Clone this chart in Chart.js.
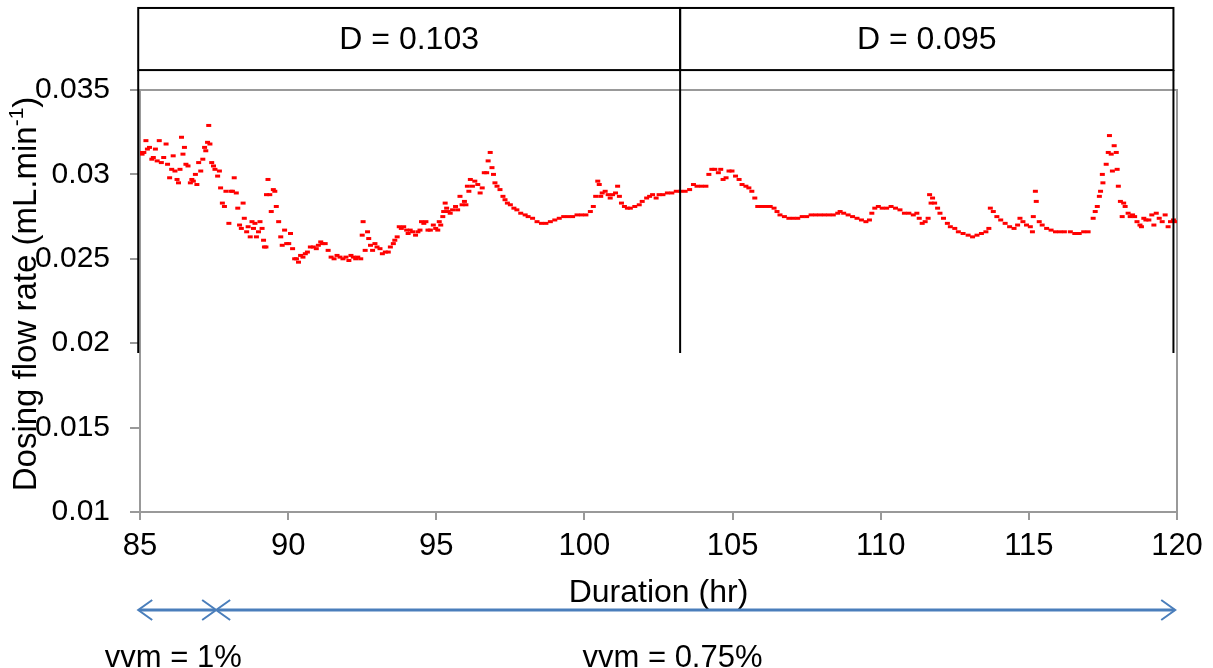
<!DOCTYPE html>
<html>
<head>
<meta charset="utf-8">
<script src="https://cdn.jsdelivr.net/npm/chart.js@4.4.1/dist/chart.umd.min.js"></script>
<style>
  body { margin: 0; background: #fff; }
  #wrap { width: 1213px; height: 668px; }
</style>
</head>
<body>
<div id="wrap"><canvas id="doseChart" width="1213" height="668"></canvas></div>
<script>
// Dosing flow rate readings (hr, mL/min)
const durations = [
  85.00, 85.07, 85.13, 85.20, 85.25, 85.32, 85.40, 85.45, 85.52, 85.58,
  85.65, 85.72, 85.80, 85.88, 85.93, 86.00, 86.07, 86.12, 86.18, 86.25,
  86.30, 86.35, 86.40, 86.45, 86.50, 86.55, 86.62, 86.70, 86.75, 86.80,
  86.87, 86.92, 86.98, 87.05, 87.12, 87.18, 87.22, 87.28, 87.32, 87.36,
  87.42, 87.48, 87.53, 87.62, 87.68, 87.72, 87.78, 87.85, 87.90, 88.00,
  88.07, 88.12, 88.18, 88.25, 88.30, 88.36, 88.42, 88.48, 88.52, 88.60,
  88.65, 88.72, 88.78, 88.83, 88.88, 88.93, 89.00, 89.05, 89.12, 89.17,
  89.20, 89.25, 89.27, 89.32, 89.38, 89.43, 89.50, 89.55, 89.60, 89.68,
  89.75, 89.80, 89.88, 89.95, 90.02, 90.08, 90.15, 90.22, 90.28, 90.35,
  90.42, 90.50, 90.58, 90.65, 90.75, 90.85, 90.95, 91.02, 91.10, 91.15,
  91.25, 91.35, 91.45, 91.55, 91.65, 91.75, 91.85, 91.95, 92.05, 92.12,
  92.20, 92.28, 92.35, 92.45, 92.50, 92.53, 92.60, 92.68, 92.72, 92.78,
  92.85, 92.93, 93.00, 93.10, 93.18, 93.28, 93.38, 93.45, 93.55, 93.60,
  93.68, 93.75, 93.82, 93.90, 94.00, 94.05, 94.12, 94.20, 94.30, 94.38,
  94.45, 94.50, 94.58, 94.65, 94.72, 94.80, 94.90, 94.98, 95.05, 95.10,
  95.15, 95.22, 95.25, 95.30, 95.35, 95.40, 95.47, 95.55, 95.65, 95.72,
  95.80, 95.87, 95.95, 96.00, 96.05, 96.10, 96.15, 96.22, 96.30, 96.40,
  96.48, 96.55, 96.62, 96.70, 96.75, 96.82, 96.88, 96.93, 96.98, 97.05,
  97.15, 97.25, 97.32, 97.40, 97.50, 97.62, 97.72, 97.85, 98.00, 98.10,
  98.25, 98.40, 98.55, 98.70, 98.85, 99.00, 99.15, 99.30, 99.45, 99.60,
  99.75, 99.90, 100.05, 100.20, 100.30, 100.38, 100.45, 100.50, 100.55, 100.60,
  100.70, 100.80, 100.87, 100.95, 101.05, 101.12, 101.18, 101.25, 101.35, 101.45,
  101.55, 101.70, 101.85, 101.95, 102.10, 102.20, 102.30, 102.42, 102.52, 102.65,
  102.80, 102.95, 103.10, 103.25, 103.40, 103.55, 103.68, 103.80, 103.95, 104.10,
  104.20, 104.30, 104.40, 104.52, 104.60, 104.68, 104.78, 104.88, 104.98, 105.10,
  105.22, 105.32, 105.45, 105.55, 105.65, 105.75, 105.85, 105.98, 106.12, 106.27,
  106.40, 106.50, 106.60, 106.75, 106.90, 107.05, 107.20, 107.35, 107.50, 107.65,
  107.80, 107.95, 108.10, 108.25, 108.40, 108.55, 108.63, 108.75, 108.90, 109.05,
  109.20, 109.35, 109.50, 109.62, 109.70, 109.80, 109.92, 110.05, 110.20, 110.35,
  110.50, 110.65, 110.80, 110.95, 111.10, 111.22, 111.30, 111.40, 111.50, 111.60,
  111.65, 111.70, 111.75, 111.82, 111.92, 112.00, 112.12, 112.25, 112.35, 112.50,
  112.62, 112.78, 112.95, 113.10, 113.25, 113.40, 113.55, 113.65, 113.70, 113.80,
  113.92, 114.05, 114.20, 114.35, 114.50, 114.62, 114.70, 114.80, 114.92, 115.05,
  115.12, 115.15, 115.22, 115.25, 115.35, 115.45, 115.60, 115.75, 115.90, 116.05,
  116.20, 116.40, 116.55, 116.70, 116.85, 117.00, 117.17, 117.24, 117.31, 117.38,
  117.42, 117.50, 117.48, 117.61, 117.68, 117.72, 117.78, 117.82, 117.88, 117.95,
  117.98, 118.02, 118.09, 118.15, 118.20, 118.25, 118.35, 118.42, 118.50, 118.57,
  118.65, 118.75, 118.80, 118.88, 118.95, 119.05, 119.15, 119.22, 119.30, 119.40,
  119.50, 119.60, 119.70, 119.78, 119.88, 119.95
];
const flowRates = [
  0.0313, 0.0312, 0.0313, 0.0320, 0.0315, 0.0316, 0.0309, 0.0310, 0.0315, 0.0308,
  0.0320, 0.0307, 0.0310, 0.0318, 0.0306, 0.0298, 0.0303, 0.0311, 0.0302, 0.0297,
  0.0295, 0.0303, 0.0322, 0.0312, 0.0316, 0.0306, 0.0305, 0.0295, 0.0297, 0.0296,
  0.0300, 0.0294, 0.0307, 0.0302, 0.0309, 0.0316, 0.0314, 0.0319, 0.0329, 0.0318,
  0.0307, 0.0305, 0.0303, 0.0299, 0.0302, 0.0292, 0.0283, 0.0281, 0.0290, 0.0271,
  0.0290, 0.0290, 0.0298, 0.0289, 0.0280, 0.0270, 0.0268, 0.0283, 0.0274, 0.0266,
  0.0269, 0.0263, 0.0272, 0.0268, 0.0271, 0.0263, 0.0266, 0.0272, 0.0268, 0.0261,
  0.0257, 0.0257, 0.0288, 0.0297, 0.0288, 0.0278, 0.0291, 0.0290, 0.0281, 0.0272,
  0.0263, 0.0258, 0.0267, 0.0259, 0.0259, 0.0265, 0.0256, 0.0250, 0.0250, 0.0248,
  0.0252, 0.0251, 0.0253, 0.0254, 0.0257, 0.0257, 0.0256, 0.0258, 0.0260, 0.0259,
  0.0259, 0.0255, 0.0251, 0.0250, 0.0252, 0.0251, 0.0250, 0.0251, 0.0249, 0.0252,
  0.0251, 0.0250, 0.0251, 0.0250, 0.0264, 0.0272, 0.0255, 0.0266, 0.0262, 0.0258,
  0.0255, 0.0259, 0.0257, 0.0256, 0.0253, 0.0254, 0.0254, 0.0257, 0.0259, 0.0261,
  0.0263, 0.0269, 0.0268, 0.0269, 0.0267, 0.0265, 0.0267, 0.0266, 0.0264, 0.0266,
  0.0267, 0.0272, 0.0271, 0.0272, 0.0267, 0.0267, 0.0270, 0.0268, 0.0267, 0.0272,
  0.0270, 0.0275, 0.0278, 0.0283, 0.0280, 0.0278, 0.0277, 0.0279, 0.0281, 0.0279,
  0.0287, 0.0282, 0.0284, 0.0282, 0.0293, 0.0290, 0.0297, 0.0293, 0.0296, 0.0294,
  0.0289, 0.0292, 0.0301, 0.0301, 0.0308, 0.0313, 0.0304, 0.0300, 0.0295, 0.0293,
  0.0291, 0.0287, 0.0285, 0.0283, 0.0282, 0.0280, 0.0279, 0.0277, 0.0276, 0.0275,
  0.0274, 0.0272, 0.0271, 0.0271, 0.0272, 0.0273, 0.0274, 0.0275, 0.0275, 0.0275,
  0.0276, 0.0276, 0.0276, 0.0278, 0.0281, 0.0287, 0.0296, 0.0294, 0.0287, 0.0289,
  0.0290, 0.0288, 0.0286, 0.0288, 0.0289, 0.0293, 0.0287, 0.0283, 0.0281, 0.0280,
  0.0280, 0.0281, 0.0282, 0.0284, 0.0286, 0.0287, 0.0288, 0.0286, 0.0288, 0.0288,
  0.0289, 0.0289, 0.0290, 0.0290, 0.0290, 0.0291, 0.0294, 0.0293, 0.0293, 0.0293,
  0.0300, 0.0303, 0.0303, 0.0301, 0.0303, 0.0297, 0.0298, 0.0302, 0.0302, 0.0299,
  0.0297, 0.0294, 0.0293, 0.0292, 0.0290, 0.0286, 0.0281, 0.0281, 0.0281, 0.0281,
  0.0280, 0.0278, 0.0276, 0.0275, 0.0274, 0.0274, 0.0274, 0.0275, 0.0275, 0.0276,
  0.0276, 0.0276, 0.0276, 0.0276, 0.0276, 0.0277, 0.0278, 0.0277, 0.0276, 0.0275,
  0.0274, 0.0273, 0.0272, 0.0273, 0.0277, 0.0280, 0.0281, 0.0280, 0.0280, 0.0281,
  0.0280, 0.0279, 0.0277, 0.0277, 0.0276, 0.0277, 0.0274, 0.0271, 0.0272, 0.0274,
  0.0288, 0.0283, 0.0286, 0.0283, 0.0280, 0.0277, 0.0274, 0.0271, 0.0269, 0.0268,
  0.0266, 0.0265, 0.0264, 0.0263, 0.0264, 0.0265, 0.0266, 0.0268, 0.0280, 0.0278,
  0.0275, 0.0273, 0.0271, 0.0269, 0.0268, 0.0270, 0.0274, 0.0272, 0.0270, 0.0269,
  0.0266, 0.0275, 0.0290, 0.0284, 0.0272, 0.0270, 0.0268, 0.0267, 0.0266, 0.0266,
  0.0266, 0.0266, 0.0265, 0.0265, 0.0266, 0.0266, 0.0274, 0.0278, 0.0281, 0.0287,
  0.0290, 0.0295, 0.0300, 0.0306, 0.0313, 0.0323, 0.0312, 0.0302, 0.0317, 0.0313,
  0.0303, 0.0293, 0.0284, 0.0275, 0.0283, 0.0281, 0.0277, 0.0275, 0.0276, 0.0275,
  0.0272, 0.0270, 0.0269, 0.0274, 0.0273, 0.0273, 0.0276, 0.0270, 0.0277, 0.0274,
  0.0272, 0.0276, 0.0269, 0.0272, 0.0273, 0.0272
];

const xTickLabels = ['85', '90', '95', '100', '105', '110', '115', '120'];
const yTickLabels = ['0.01', '0.015', '0.02', '0.025', '0.03', '0.035'];

// Dilution rate phases (hr edges) shown as boxes above the plot
const phaseEdges = [84.94, 103.23, 119.88];
const phaseLabels = ['D = 0.103', 'D = 0.095'];
// Aeration phases (hr edges) shown as arrows under the axis
const vvmEdges = [84.94, 87.57, 119.94];
const vvmLabels = ['vvm = 1%', 'vvm = 0.75%'];

const FONT = '"Liberation Sans", Arial, sans-serif';
const points = durations.map((d, i) => ({ x: d, y: flowRates[i] }));

// plot frame, header boxes, titles and aeration arrows
const decorations = {
    id: 'decorations',
    beforeDatasetsDraw(chart) {
        const { ctx, chartArea: a } = chart;
        ctx.save();
        ctx.strokeStyle = '#999';
        ctx.lineWidth = 2;
        ctx.strokeRect(a.left, a.top, a.right - a.left, a.bottom - a.top);
        ctx.restore();
    },
    afterDatasetsDraw(chart) {
        const { ctx, chartArea: a, scales: { x, y } } = chart;
        ctx.save();

        // header boxes with D values
        const boxTop = y.getPixelForValue(0.03986);
        const boxBottom = y.getPixelForValue(0.03618);
        const lineEnd = y.getPixelForValue(0.01942);
        ctx.strokeStyle = '#000';
        ctx.lineWidth = 2;
        ctx.fillStyle = '#000';
        ctx.font = '32px ' + FONT;
        ctx.textAlign = 'center';
        ctx.textBaseline = 'middle';
        for (let i = 0; i < phaseLabels.length; i++) {
            const x0 = x.getPixelForValue(phaseEdges[i]);
            const x1 = x.getPixelForValue(phaseEdges[i + 1]);
            ctx.strokeRect(x0, boxTop, x1 - x0, boxBottom - boxTop);
            ctx.fillText(phaseLabels[i], (x0 + x1) / 2, (boxTop + boxBottom) / 2 + 1);
        }
        phaseEdges.forEach(v => {
            const px = x.getPixelForValue(v);
            ctx.beginPath();
            ctx.moveTo(px, boxBottom);
            ctx.lineTo(px, lineEnd);
            ctx.stroke();
        });

        // axis titles
        ctx.textBaseline = 'alphabetic';
        ctx.font = '32px ' + FONT;
        ctx.fillText('Duration (hr)', (a.left + a.right) / 2, a.bottom + 90);

        ctx.save();
        ctx.translate(36, (a.top + a.bottom) / 2 - 7);
        ctx.rotate(-Math.PI / 2);
        const main = 'Dosing flow rate (mL.min';
        ctx.font = '33px ' + FONT;
        const wMain = ctx.measureText(main).width;
        const wTail = ctx.measureText(')').width;
        ctx.font = '21px ' + FONT;
        const wSup = ctx.measureText('-1').width;
        let cx = -(wMain + wSup + wTail) / 2;
        ctx.textAlign = 'left';
        ctx.font = '33px ' + FONT;
        ctx.fillText(main, cx, 0);
        cx += wMain;
        ctx.font = '21px ' + FONT;
        ctx.fillText('-1', cx, -13);
        cx += wSup;
        ctx.font = '33px ' + FONT;
        ctx.fillText(')', cx, 0);
        ctx.restore();

        // aeration arrows
        const ay = a.bottom + 98;
        ctx.strokeStyle = '#4a7ebb';
        for (let i = 0; i < vvmLabels.length; i++) {
            const x0 = x.getPixelForValue(vvmEdges[i]);
            const x1 = x.getPixelForValue(vvmEdges[i + 1]);
            ctx.lineWidth = 3;
            ctx.beginPath();
            ctx.moveTo(x0 + 1, ay);
            ctx.lineTo(x1 - 1, ay);
            ctx.stroke();
            ctx.lineWidth = 2;
            ctx.beginPath();
            ctx.moveTo(x0 + 14, ay - 10);
            ctx.lineTo(x0, ay);
            ctx.lineTo(x0 + 14, ay + 10);
            ctx.moveTo(x1 - 14, ay - 10);
            ctx.lineTo(x1, ay);
            ctx.lineTo(x1 - 14, ay + 10);
            ctx.stroke();

            ctx.fillStyle = '#000';
            ctx.textAlign = 'center';
            ctx.font = '31px ' + FONT;
            const labelX = i === 0 ? x0 + 35 : (a.left + a.right) / 2 + 14;
            ctx.fillText(vvmLabels[i], labelX, a.bottom + 155);
        }
        ctx.restore();
    }
};

new Chart(document.getElementById('doseChart').getContext('2d'), {
    type: 'scatter',
    data: {
        datasets: [{
            label: 'Dosing flow rate',
            data: points,
            pointStyle: 'line',
            pointRadius: 2.5,
            pointHoverRadius: 2.5,
            borderColor: '#ff0000',
            backgroundColor: '#ff0000',
            borderWidth: 3
        }]
    },
    options: {
        responsive: false,
        animation: false,
        events: [],
        layout: {
            padding: { top: 90, right: 36, left: 0, bottom: 0 }
        },
        plugins: {
            legend: { display: false },
            tooltip: { enabled: false }
        },
        scales: {
            x: {
                type: 'linear',
                min: 85,
                max: 120,
                afterFit: s => { s.height = 156; },
                border: { display: false },
                grid: {
                    drawOnChartArea: false,
                    drawTicks: true,
                    tickLength: 8,
                    color: '#999',
                    lineWidth: 2
                },
                ticks: {
                    stepSize: 5,
                    padding: 8,
                    color: '#000',
                    font: { family: FONT, size: 31 },
                    callback: (v, i) => xTickLabels[i]
                }
            },
            y: {
                type: 'linear',
                min: 0.01,
                max: 0.035,
                afterFit: s => { s.width = 140; },
                border: { display: false },
                grid: {
                    drawOnChartArea: false,
                    drawTicks: true,
                    tickLength: 10,
                    color: '#999',
                    lineWidth: 2
                },
                ticks: {
                    stepSize: 0.005,
                    padding: 20,
                    color: '#000',
                    font: { family: FONT, size: 30 },
                    callback: (v, i) => yTickLabels[i]
                }
            }
        }
    },
    plugins: [decorations]
});
</script>
</body>
</html>
